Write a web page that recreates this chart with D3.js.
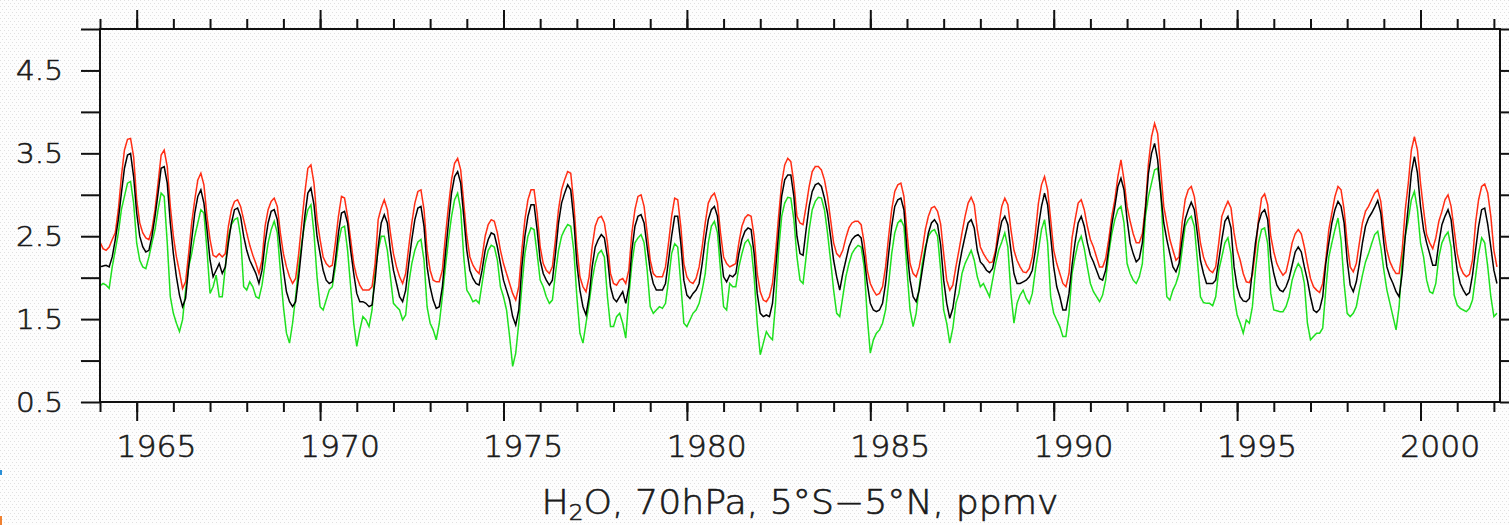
<!DOCTYPE html>
<html>
<head>
<meta charset="utf-8">
<script src="https://cdn.jsdelivr.net/npm/d3@7"></script>
<style>
  html, body { margin: 0; padding: 0; background: #fff; overflow: hidden; }
  svg text { font-family: "DejaVu Sans", "Liberation Sans", sans-serif; font-weight: 200; fill: #1a1a1a; stroke: #1a1a1a; stroke-width: 0.6px; }
</style>
</head>
<body>
<svg id="chart" width="1509" height="525"></svg>
<script>
// Monthly H2O mixing ratio (ppmv) at 70 hPa, 5°S–5°N, Jan 1964 – Feb 2002.
const startYear = 1964;

// upper estimate (red)
const h2oUpper = [
  2.43, 2.35, 2.33, 2.37, 2.46, 2.54, 2.82, 3.22, 3.54, 3.67, 3.68, 3.46,
  2.94, 2.66, 2.54, 2.48, 2.46, 2.58, 2.82, 3.14, 3.48, 3.54, 3.34, 2.86,
  2.50, 2.25, 2.07, 1.87, 1.95, 2.29, 2.66, 2.94, 3.18, 3.26, 3.12, 2.74,
  2.46, 2.27, 2.25, 2.29, 2.25, 2.29, 2.62, 2.82, 2.92, 2.94, 2.86, 2.70,
  2.54, 2.39, 2.27, 2.17, 2.05, 2.21, 2.62, 2.82, 2.92, 2.96, 2.86, 2.54,
  2.29, 2.13, 2.01, 1.93, 1.99, 2.29, 2.66, 3.02, 3.32, 3.36, 3.14, 2.70,
  2.46, 2.25, 2.17, 2.13, 2.15, 2.42, 2.74, 2.98, 2.96, 2.74, 2.46, 2.17,
  2.01, 1.91, 1.85, 1.85, 1.85, 1.89, 2.17, 2.70, 2.84, 2.94, 2.82, 2.54,
  2.29, 2.13, 2.01, 1.93, 2.05, 2.37, 2.66, 2.90, 3.04, 3.06, 2.82, 2.33,
  2.09, 1.97, 1.95, 1.95, 2.09, 2.50, 2.86, 3.18, 3.38, 3.44, 3.30, 2.90,
  2.50, 2.25, 2.15, 2.09, 2.05, 2.25, 2.50, 2.64, 2.70, 2.68, 2.54, 2.33,
  2.17, 2.05, 1.93, 1.81, 1.73, 1.89, 2.33, 2.70, 2.94, 3.06, 3.06, 2.78,
  2.37, 2.17, 2.09, 2.05, 2.13, 2.46, 2.82, 3.06, 3.18, 3.28, 3.26, 2.90,
  2.37, 2.01, 1.89, 1.83, 2.01, 2.37, 2.62, 2.72, 2.74, 2.66, 2.42, 2.05,
  1.93, 1.91, 1.97, 1.99, 1.93, 2.09, 2.54, 2.82, 2.98, 3.00, 2.86, 2.54,
  2.21, 2.05, 2.01, 2.01, 2.01, 2.13, 2.42, 2.74, 2.96, 2.94, 2.62, 2.17,
  2.01, 1.95, 1.93, 1.99, 2.13, 2.37, 2.66, 2.90, 2.98, 3.02, 2.90, 2.54,
  2.25, 2.17, 2.13, 2.15, 2.17, 2.42, 2.62, 2.72, 2.76, 2.74, 2.50, 2.05,
  1.83, 1.73, 1.71, 1.77, 1.93, 2.29, 2.74, 3.14, 3.36, 3.44, 3.40, 3.14,
  2.74, 2.66, 2.64, 2.86, 3.10, 3.28, 3.34, 3.34, 3.30, 3.18, 2.98, 2.70,
  2.42, 2.29, 2.25, 2.33, 2.48, 2.60, 2.66, 2.68, 2.68, 2.64, 2.42, 2.09,
  1.93, 1.85, 1.79, 1.81, 1.89, 2.13, 2.50, 2.82, 3.04, 3.12, 3.14, 2.98,
  2.54, 2.17, 2.05, 2.01, 2.13, 2.33, 2.58, 2.74, 2.84, 2.86, 2.80, 2.65,
  2.29, 1.97, 1.85, 1.91, 2.13, 2.33, 2.54, 2.74, 2.90, 2.97, 2.88, 2.58,
  2.37, 2.29, 2.23, 2.18, 2.19, 2.33, 2.62, 2.86, 2.96, 2.88, 2.58, 2.33,
  2.21, 2.13, 2.07, 2.06, 2.11, 2.25, 2.54, 2.90, 3.12, 3.22, 3.06, 2.70,
  2.33, 2.17, 2.05, 1.93, 1.89, 2.05, 2.48, 2.70, 2.90, 2.94, 2.82, 2.62,
  2.46, 2.37, 2.25, 2.13, 2.13, 2.23, 2.46, 2.74, 2.94, 3.22, 3.42, 3.18,
  2.86, 2.68, 2.53, 2.42, 2.42, 2.53, 2.86, 3.38, 3.70, 3.86, 3.74, 3.30,
  2.86, 2.66, 2.46, 2.33, 2.21, 2.25, 2.66, 2.94, 3.06, 3.10, 2.98, 2.70,
  2.42, 2.25, 2.15, 2.09, 2.06, 2.13, 2.42, 2.74, 2.84, 2.92, 2.84, 2.54,
  2.33, 2.21, 2.05, 1.95, 1.94, 2.03, 2.33, 2.70, 2.96, 3.01, 2.88, 2.50,
  2.31, 2.17, 2.09, 2.03, 2.07, 2.23, 2.42, 2.53, 2.58, 2.53, 2.37, 2.17,
  1.99, 1.89, 1.85, 1.82, 1.93, 2.21, 2.58, 2.78, 2.98, 3.10, 3.06, 2.82,
  2.42, 2.13, 2.07, 2.17, 2.42, 2.66, 2.80, 2.86, 2.94, 3.02, 3.06, 2.92,
  2.58, 2.33, 2.19, 2.11, 2.05, 2.05, 2.33, 2.82, 3.14, 3.54, 3.70, 3.54,
  3.14, 2.82, 2.52, 2.42, 2.35, 2.48, 2.68, 2.80, 2.94, 3.00, 2.86, 2.58,
  2.29, 2.13, 2.05, 2.01, 2.04, 2.21, 2.66, 2.94, 3.10, 3.13, 3.02, 2.74,
  2.33, 2.13
];

// central estimate (black)
const h2oMean = [
  2.13, 2.14, 2.15, 2.13, 2.25, 2.46, 2.70, 3.02, 3.32, 3.48, 3.50, 3.22,
  2.78, 2.50, 2.37, 2.31, 2.33, 2.50, 2.74, 3.02, 3.32, 3.34, 3.14, 2.66,
  2.29, 2.01, 1.79, 1.65, 1.75, 2.13, 2.46, 2.78, 2.98, 3.06, 2.90, 2.58,
  2.21, 2.01, 2.09, 2.17, 2.05, 2.13, 2.42, 2.66, 2.82, 2.84, 2.74, 2.50,
  2.33, 2.21, 2.13, 2.05, 1.93, 2.09, 2.42, 2.66, 2.80, 2.82, 2.70, 2.37,
  2.09, 1.83, 1.71, 1.65, 1.71, 2.01, 2.37, 2.74, 3.02, 3.08, 2.88, 2.50,
  2.29, 2.09, 1.97, 1.93, 1.95, 2.21, 2.54, 2.78, 2.80, 2.66, 2.33, 2.05,
  1.81, 1.71, 1.71, 1.69, 1.65, 1.67, 1.97, 2.37, 2.66, 2.76, 2.66, 2.33,
  2.09, 1.93, 1.77, 1.71, 1.85, 2.17, 2.46, 2.70, 2.84, 2.86, 2.62, 2.13,
  1.89, 1.73, 1.63, 1.65, 1.89, 2.29, 2.66, 3.02, 3.22, 3.28, 3.14, 2.74,
  2.33, 2.09, 1.99, 1.93, 1.91, 2.09, 2.33, 2.46, 2.54, 2.52, 2.37, 2.17,
  1.97, 1.85, 1.73, 1.53, 1.43, 1.61, 2.13, 2.50, 2.74, 2.88, 2.88, 2.58,
  2.21, 2.05, 1.97, 1.91, 1.97, 2.29, 2.66, 2.90, 3.02, 3.12, 3.06, 2.70,
  2.17, 1.85, 1.65, 1.55, 1.77, 2.13, 2.37, 2.46, 2.52, 2.48, 2.25, 1.89,
  1.75, 1.71, 1.77, 1.83, 1.69, 1.89, 2.33, 2.62, 2.74, 2.76, 2.66, 2.37,
  2.09, 1.93, 1.85, 1.85, 1.85, 1.93, 2.21, 2.50, 2.74, 2.74, 2.42, 1.97,
  1.79, 1.75, 1.81, 1.85, 1.93, 2.17, 2.46, 2.70, 2.82, 2.86, 2.74, 2.33,
  2.01, 1.95, 2.03, 2.01, 2.05, 2.29, 2.46, 2.56, 2.60, 2.58, 2.29, 1.81,
  1.57, 1.53, 1.55, 1.53, 1.69, 2.09, 2.54, 2.98, 3.18, 3.24, 3.24, 2.98,
  2.50, 2.29, 2.27, 2.58, 2.86, 3.04, 3.12, 3.14, 3.10, 2.96, 2.78, 2.50,
  2.21, 2.01, 1.85, 2.05, 2.21, 2.37, 2.46, 2.50, 2.52, 2.48, 2.25, 1.93,
  1.69, 1.61, 1.59, 1.61, 1.69, 1.93, 2.29, 2.62, 2.86, 2.94, 2.96, 2.82,
  2.33, 1.97, 1.77, 1.71, 1.85, 2.09, 2.33, 2.54, 2.66, 2.70, 2.64, 2.40,
  1.97, 1.69, 1.51, 1.63, 1.89, 2.13, 2.33, 2.50, 2.66, 2.70, 2.60, 2.33,
  2.19, 2.15, 2.09, 2.06, 2.11, 2.29, 2.50, 2.68, 2.74, 2.64, 2.33, 2.05,
  1.93, 1.93, 1.95, 1.97, 2.01, 2.09, 2.33, 2.62, 2.86, 3.02, 2.88, 2.50,
  2.13, 1.89, 1.77, 1.61, 1.61, 1.81, 2.15, 2.43, 2.66, 2.74, 2.62, 2.42,
  2.27, 2.19, 2.09, 1.99, 1.97, 2.09, 2.35, 2.64, 2.86, 3.10, 3.20, 3.06,
  2.70, 2.42, 2.29, 2.19, 2.23, 2.42, 2.82, 3.26, 3.50, 3.62, 3.42, 3.02,
  2.66, 2.46, 2.29, 2.13, 2.07, 2.17, 2.46, 2.70, 2.82, 2.91, 2.82, 2.53,
  2.21, 2.05, 1.93, 1.93, 1.93, 1.97, 2.21, 2.46, 2.68, 2.74, 2.60, 2.13,
  1.89, 1.77, 1.72, 1.71, 1.75, 2.09, 2.42, 2.66, 2.78, 2.82, 2.70, 2.25,
  2.05, 1.91, 1.85, 1.83, 1.89, 1.99, 2.15, 2.31, 2.37, 2.31, 2.13, 1.97,
  1.77, 1.61, 1.58, 1.62, 1.77, 2.17, 2.42, 2.66, 2.82, 2.92, 2.86, 2.66,
  2.21, 1.91, 1.83, 1.95, 2.17, 2.42, 2.62, 2.72, 2.78, 2.85, 2.93, 2.78,
  2.42, 2.13, 2.01, 1.93, 1.83, 1.77, 2.05, 2.50, 2.86, 3.26, 3.46, 3.26,
  2.86, 2.58, 2.42, 2.29, 2.15, 2.15, 2.42, 2.64, 2.74, 2.82, 2.70, 2.37,
  2.09, 1.93, 1.85, 1.79, 1.82, 2.03, 2.33, 2.62, 2.82, 2.84, 2.64, 2.37,
  2.09, 1.93
];

// lower estimate (green)
const h2oLower = [
  1.90, 1.93, 1.91, 1.87, 2.13, 2.33, 2.54, 2.82, 2.98, 3.14, 3.16, 2.90,
  2.42, 2.21, 2.13, 2.11, 2.25, 2.42, 2.58, 2.82, 3.02, 2.98, 2.42, 1.77,
  1.57, 1.45, 1.35, 1.49, 1.85, 2.13, 2.29, 2.50, 2.66, 2.82, 2.78, 2.33,
  1.81, 1.89, 2.03, 1.77, 1.77, 2.13, 2.50, 2.64, 2.70, 2.72, 2.50, 1.89,
  1.85, 1.95, 1.89, 1.77, 1.75, 1.91, 2.17, 2.42, 2.58, 2.68, 2.54, 2.09,
  1.65, 1.33, 1.21, 1.45, 1.77, 2.13, 2.42, 2.66, 2.82, 2.88, 2.54, 2.01,
  1.65, 1.61, 1.73, 1.85, 1.89, 2.13, 2.42, 2.60, 2.62, 2.33, 1.89, 1.45,
  1.17, 1.37, 1.53, 1.49, 1.41, 1.61, 2.09, 2.33, 2.50, 2.50, 2.33, 2.01,
  1.69, 1.65, 1.61, 1.49, 1.55, 1.93, 2.17, 2.33, 2.43, 2.46, 2.21, 1.65,
  1.45, 1.37, 1.25, 1.45, 1.77, 2.13, 2.46, 2.74, 2.94, 3.02, 2.82, 2.25,
  1.85, 1.79, 1.71, 1.73, 1.69, 1.93, 2.17, 2.33, 2.39, 2.37, 2.21, 1.89,
  1.77, 1.61, 1.29, 0.93, 1.09, 1.45, 1.89, 2.29, 2.50, 2.60, 2.58, 2.29,
  1.97, 1.89, 1.77, 1.69, 1.73, 2.05, 2.33, 2.50, 2.58, 2.64, 2.62, 2.33,
  1.77, 1.33, 1.21, 1.45, 1.69, 1.97, 2.17, 2.29, 2.33, 2.25, 1.77, 1.41,
  1.41, 1.53, 1.57, 1.45, 1.27, 1.77, 2.17, 2.42, 2.48, 2.52, 2.42, 2.09,
  1.65, 1.57, 1.61, 1.65, 1.63, 1.69, 1.97, 2.29, 2.41, 2.37, 1.93, 1.45,
  1.41, 1.49, 1.57, 1.61, 1.69, 1.85, 2.05, 2.42, 2.62, 2.68, 2.54, 2.09,
  1.65, 1.61, 1.93, 1.89, 1.89, 2.13, 2.29, 2.42, 2.46, 2.37, 2.01, 1.45,
  1.07, 1.21, 1.35, 1.29, 1.25, 1.69, 2.33, 2.74, 2.90, 2.97, 2.96, 2.70,
  2.25, 1.97, 1.93, 2.25, 2.58, 2.82, 2.92, 2.97, 2.96, 2.82, 2.54, 2.21,
  1.85, 1.57, 1.53, 1.77, 2.01, 2.17, 2.29, 2.35, 2.39, 2.37, 2.13, 1.53,
  1.09, 1.25, 1.33, 1.37, 1.45, 1.61, 1.93, 2.29, 2.54, 2.66, 2.70, 2.62,
  2.09, 1.61, 1.41, 1.57, 1.89, 2.17, 2.37, 2.50, 2.56, 2.58, 2.50, 2.10,
  1.61, 1.45, 1.21, 1.39, 1.69, 1.81, 2.05, 2.17, 2.25, 2.33, 2.21, 2.01,
  1.89, 1.93, 1.85, 1.77, 1.97, 2.17, 2.33, 2.43, 2.54, 2.37, 1.81, 1.45,
  1.69, 1.79, 1.85, 1.75, 1.69, 1.81, 2.09, 2.33, 2.58, 2.70, 2.42, 1.77,
  1.57, 1.49, 1.41, 1.29, 1.29, 1.57, 2.05, 2.25, 2.42, 2.50, 2.35, 2.13,
  1.93, 1.83, 1.77, 1.71, 1.79, 1.97, 2.29, 2.53, 2.70, 2.82, 2.86, 2.66,
  2.17, 2.05, 1.97, 1.93, 2.01, 2.17, 2.74, 2.98, 3.14, 3.30, 3.32, 3.06,
  2.33, 1.77, 1.73, 1.85, 1.93, 2.05, 2.33, 2.62, 2.70, 2.74, 2.62, 2.21,
  1.77, 1.70, 1.69, 1.69, 1.66, 1.77, 2.09, 2.25, 2.42, 2.48, 2.29, 1.77,
  1.55, 1.45, 1.33, 1.49, 1.45, 1.65, 2.09, 2.42, 2.58, 2.60, 2.41, 1.81,
  1.61, 1.60, 1.59, 1.59, 1.65, 1.77, 1.97, 2.09, 2.17, 2.11, 1.93, 1.45,
  1.25, 1.29, 1.33, 1.33, 1.39, 1.85, 2.25, 2.42, 2.58, 2.72, 2.45, 1.93,
  1.57, 1.53, 1.57, 1.65, 1.85, 2.03, 2.19, 2.29, 2.41, 2.52, 2.56, 2.37,
  2.09, 1.85, 1.69, 1.53, 1.37, 1.65, 2.21, 2.50, 2.70, 2.94, 3.04, 2.82,
  2.42, 2.25, 1.97, 1.83, 1.81, 1.93, 2.25, 2.42, 2.50, 2.55, 2.37, 1.79,
  1.67, 1.63, 1.61, 1.59, 1.63, 1.73, 2.01, 2.29, 2.48, 2.42, 2.13, 1.77,
  1.53, 1.57
];

const majorYears = [1965, 1970, 1975, 1980, 1985, 1990, 1995, 2000];
const minorYears = d3.range(1964, 2003);
const yTicks = [0.5, 1.0, 1.5, 2.0, 2.5, 3.0, 3.5, 4.0, 4.5, 5.0];
const yLabels = [0.5, 1.5, 2.5, 3.5, 4.5];

const svg = d3.select("#chart");
const W = 1509, H = 525;
const plot = { left: 100, right: 1500, top: 29, bottom: 402 };

// faint dotted paper texture
const defs = svg.append("defs");
const pat = defs.append("pattern")
  .attr("id", "paper").attr("patternUnits", "userSpaceOnUse")
  .attr("width", 4).attr("height", 6);
pat.append("rect").attr("width", 4).attr("height", 6).attr("fill", "#fdfdfd");
pat.append("rect").attr("x", 0).attr("y", 0).attr("width", 1).attr("height", 1).attr("fill", "#e0e0e0");
pat.append("rect").attr("x", 2).attr("y", 3).attr("width", 1).attr("height", 1).attr("fill", "#e0e0e0");
svg.append("rect").attr("width", W).attr("height", H).attr("fill", "url(#paper)");

const x = d3.scaleLinear().domain([startYear, 2002 + 2 / 12]).range([plot.left, plot.right]);
const y = d3.scaleLinear().domain([0.5, 5.0]).range([plot.bottom, plot.top]);

// data lines
const monthTime = i => startYear + i / 12;
const line = d3.line().x((d, i) => x(monthTime(i))).y(d => y(d));
const series = [
  { values: h2oLower, color: "#1ee01e" },
  { values: h2oUpper, color: "#ff2d14" },
  { values: h2oMean,  color: "#000000" }
];
svg.append("g").selectAll("path").data(series).join("path")
  .attr("d", d => line(d.values))
  .attr("fill", "none")
  .attr("stroke", d => d.color)
  .attr("stroke-width", 1.5)
  .attr("stroke-linejoin", "miter");

// tick helper: strip domain path, style tick lines
function styleTicks(g) {
  g.select(".domain").remove();
  g.selectAll(".tick line").attr("stroke", "#111").attr("stroke-width", 2);
  g.selectAll(".tick text").remove();
}
const axes = svg.append("g");
axes.append("g").attr("transform", `translate(0,${plot.bottom})`)
  .call(d3.axisBottom(x).tickValues(minorYears).tickSize(10)).call(styleTicks);
axes.append("g").attr("transform", `translate(0,${plot.bottom})`)
  .call(d3.axisBottom(x).tickValues(majorYears).tickSize(19)).call(styleTicks);
axes.append("g").attr("transform", `translate(0,${plot.top})`)
  .call(d3.axisTop(x).tickValues(minorYears).tickSize(10)).call(styleTicks);
axes.append("g").attr("transform", `translate(0,${plot.top})`)
  .call(d3.axisTop(x).tickValues(majorYears).tickSize(19)).call(styleTicks);
axes.append("g").attr("transform", `translate(${plot.left},0)`)
  .call(d3.axisLeft(y).tickValues(yTicks).tickSize(19)).call(styleTicks);
axes.append("g").attr("transform", `translate(${plot.right},0)`)
  .call(d3.axisRight(y).tickValues(yTicks).tickSize(19)).call(styleTicks);

// frame
svg.append("rect")
  .attr("x", plot.left).attr("y", plot.top)
  .attr("width", plot.right - plot.left).attr("height", plot.bottom - plot.top)
  .attr("fill", "none").attr("stroke", "#111").attr("stroke-width", 2);

// year labels, centred within each labelled year
svg.append("g").selectAll("text").data(majorYears).join("text")
  .attr("x", d => x(d + 0.5) + 1.5)
  .attr("y", 457)
  .attr("text-anchor", "middle")
  .attr("font-size", 30)
  .attr("textLength", 80).attr("lengthAdjust", "spacingAndGlyphs")
  .text(d => d);

// value labels
const fmt = d3.format(".1f");
svg.append("g").selectAll("text").data(yLabels).join("text")
  .attr("x", 63)
  .attr("y", d => y(d) + 9.8)
  .attr("text-anchor", "end")
  .attr("font-size", 27)
  .attr("textLength", 47).attr("lengthAdjust", "spacingAndGlyphs")
  .text(d => fmt(d));

// axis title
const title = svg.append("text")
  .attr("x", (plot.left + plot.right) / 2)
  .attr("y", 514)
  .attr("text-anchor", "middle")
  .attr("font-size", 33)
  .attr("textLength", 517).attr("lengthAdjust", "spacingAndGlyphs");
title.append("tspan").text("H");
title.append("tspan").attr("font-size", 21).attr("dy", 6).text("2");
title.append("tspan").attr("dy", -6).text("O,  70hPa,  5°S\u22125°N,  ppmv");

// small edge marks at the left margin
svg.append("rect").attr("x", 0).attr("y", 470).attr("width", 2).attr("height", 5).attr("fill", "#2a8fd6");
svg.append("rect").attr("x", 0).attr("y", 516).attr("width", 2).attr("height", 9).attr("fill", "#f08030");
</script>
</body>
</html>
